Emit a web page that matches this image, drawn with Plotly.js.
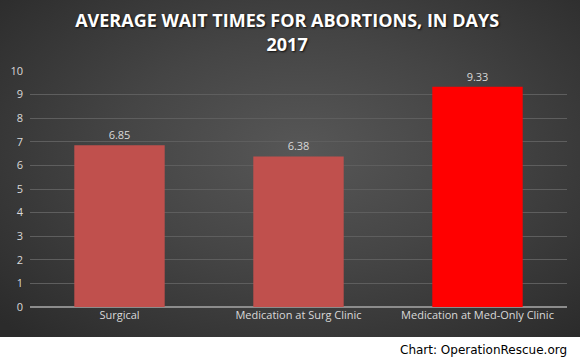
<!DOCTYPE html>
<html>
<head>
<meta charset="utf-8">
<script src="https://cdn.plot.ly/plotly-3.0.1.min.js"></script>
<style>
  html, body { margin: 0; padding: 0; }
  body {
    width: 580px; height: 364px; overflow: hidden;
    background:
      radial-gradient(ellipse 70% 75% at 52% 45%, #575757 0%, #454545 45%, #2b2b2b 100%) 0 0 / 580px 337px no-repeat,
      #ffffff;
  }
  #chart { width: 580px; height: 364px; }
  .gtitle { letter-spacing: 0px; text-shadow: 1px 1px 2px rgba(0,0,0,0.8); }
</style>
</head>
<body>
<div id="chart"></div>
<script>
const categories = ["Surgical", "Medication at Surg Clinic", "Medication at Med-Only Clinic"];
const waitDays = [6.85, 6.38, 9.33];
const valueLabels = ["6.85", "6.38", "9.33"];
const barColors = ["#c0504d", "#c0504d", "#ff0000"];
const yTicks = [0, 1, 2, 3, 4, 5, 6, 7, 8, 9, 10];

const trace = {
  type: "bar",
  x: categories,
  y: waitDays,
  text: valueLabels,
  textposition: "outside",
  textfont: { family: "Open Sans, sans-serif", size: 11, color: "#d9d9d9" },
  cliponaxis: false,
  marker: { color: barColors, line: { width: 0 } },
  width: 0.505,
  hoverinfo: "none"
};

const layout = {
  width: 580,
  height: 364,
  paper_bgcolor: "rgba(0,0,0,0)",
  plot_bgcolor: "rgba(0,0,0,0)",
  margin: { l: 30, r: 13, t: 71, b: 57 },
  showlegend: false,
  title: {
    text: "<b>AVERAGE WAIT TIMES FOR ABORTIONS, IN DAYS</b><br><b>2017</b>",
    font: { family: "Open Sans, sans-serif", size: 18, color: "#ffffff" },
    x: 0.495, xanchor: "center",
    y: 0.925, yanchor: "top"
  },
  xaxis: {
    type: "category",
    showgrid: false,
    showline: false,
    ticks: "",
    tickfont: { family: "Open Sans, sans-serif", size: 11, color: "#d9d9d9" },
    fixedrange: true
  },
  yaxis: {
    range: [0, 10],
    tickvals: yTicks,
    ticktext: yTicks.map(String),
    showgrid: true,
    gridcolor: "#5e5e5e",
    gridwidth: 1,
    zeroline: true,
    zerolinecolor: "#8c8c8c",
    zerolinewidth: 1.5,
    showline: false,
    ticks: "",
    ticklabelstandoff: 6,
    tickfont: { family: "Open Sans, sans-serif", size: 11, color: "#d9d9d9" },
    fixedrange: true
  },
  annotations: [{
    text: "Chart: OperationRescue.org",
    xref: "paper", yref: "paper",
    x: 1.003, y: -0.183,
    xanchor: "right", yanchor: "middle",
    showarrow: false,
    font: { family: "DejaVu Sans, sans-serif", size: 12, color: "#000000" }
  }]
};

Plotly.newPlot("chart", [trace], layout, { displayModeBar: false, staticPlot: true });
</script>
</body>
</html>
